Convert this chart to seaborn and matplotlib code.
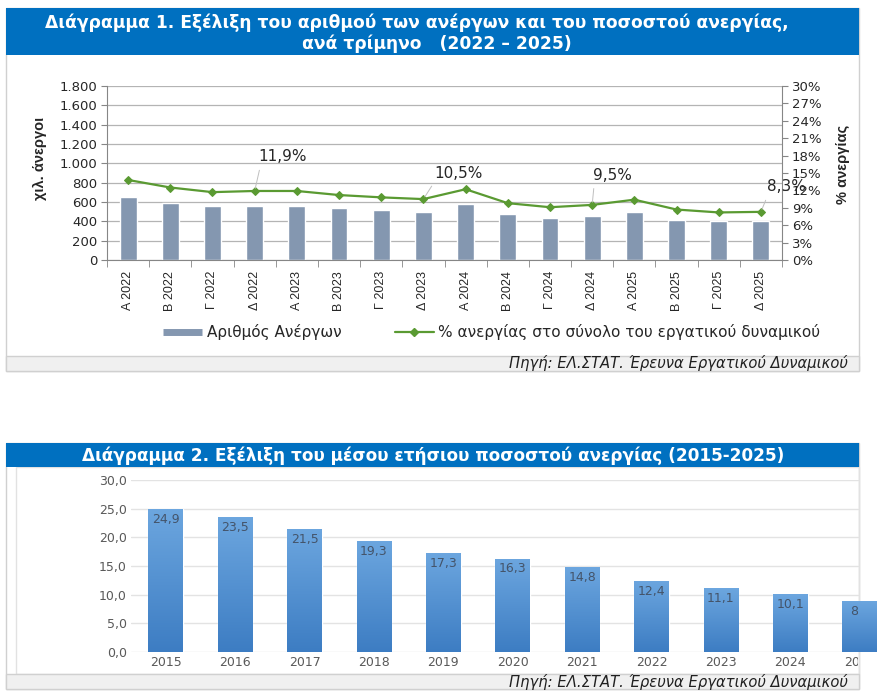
import numpy as np
import matplotlib
matplotlib.use("Agg")
import matplotlib.pyplot as plt
import seaborn as sns
from matplotlib.patches import Rectangle
from matplotlib.lines import Line2D
from matplotlib.ticker import FuncFormatter, MultipleLocator
from matplotlib.transforms import Bbox
from matplotlib.colors import LinearSegmentedColormap

# chart 1: quarterly unemployed (thousands) and unemployment rate (%)
quarters = ["Α 2022", "Β 2022", "Γ 2022", "Δ 2022", "Α 2023", "Β 2023", "Γ 2023", "Δ 2023",
            "Α 2024", "Β 2024", "Γ 2024", "Δ 2024", "Α 2025", "Β 2025", "Γ 2025", "Δ 2025"]
unemployed = [650, 592, 557, 561, 554, 537, 516, 492, 575, 471, 434, 454, 492, 413, 399, 402]
rate = [13.8, 12.5, 11.7, 11.9, 11.9, 11.2, 10.8, 10.5, 12.2, 9.8, 9.1, 9.5, 10.4, 8.7, 8.2, 8.3]
# which points get a value label, and where the label text sits (x, y in data units)
labelled = ["Δ 2022", "Δ 2023", "Δ 2024", "Δ 2025"]
label_xy = [(3.67, 17.8), (7.82, 15.0), (11.47, 14.65), (15.6, 12.6)]

# chart 2: yearly mean unemployment rate
years = ["2015", "2016", "2017", "2018", "2019", "2020", "2021", "2022", "2023", "2024", "2025"]
annual_rate = [24.9, 23.5, 21.5, 19.3, 17.3, 16.3, 14.8, 12.4, 11.1, 10.1, 8.9]

BLUE = "#0070C0"
BAR1 = "#8497B0"
GREEN = "#5A9A32"
W, H = 880, 696

sns.set_style("white")
plt.rcParams["font.family"] = ["DejaVu Sans"]

fig = plt.figure(figsize=(W / 100, H / 100), dpi=100)


def fx(x):
    return x / W


def fy(y):
    return 1 - y / H


def box(x0, y0, x1, y1, **kw):
    fig.patches.append(Rectangle((fx(x0), fy(y1)), (x1 - x0) / W, (y1 - y0) / H,
                                 transform=fig.transFigure, zorder=-1, **kw))


def comma(v, fmt):
    return format(v, fmt).replace(".", ",")


# ---------- panel 1 frame ----------
box(6, 8, 859, 371, facecolor="white", edgecolor="#D0D0D0", lw=1)
box(6, 8, 859, 55, facecolor=BLUE, edgecolor="none")
box(6, 356, 859, 371, facecolor="#F0F0F0", edgecolor="#D0D0D0", lw=1)
fig.text(fx(417), fy(23), "Διάγραμμα 1. Εξέλιξη του αριθμού των ανέργων και του ποσοστού ανεργίας,",
         color="white", weight="bold", size=12.3, ha="center", va="center")
fig.text(fx(437), fy(44), "ανά τρίμηνο   (2022 – 2025)",
         color="white", weight="bold", size=12.3, ha="center", va="center")
fig.text(fx(848), fy(363), "Πηγή: ΕΛ.ΣΤΑΤ. Έρευνα Εργατικού Δυναμικού", style="italic",
         size=10.6, ha="right", va="center", color="#202020")

ax1 = fig.add_axes([fx(107), fy(260), (782 - 107) / W, (260 - 86) / H])
ax1.set_facecolor("none")
sns.barplot(x=quarters, y=unemployed, color=BAR1, saturation=1, width=0.4, ax=ax1, zorder=2)
ax1.set_ylim(0, 1800)
ax1.yaxis.set_major_locator(MultipleLocator(200))
ax1.yaxis.set_major_formatter(FuncFormatter(lambda v, p: f"{int(v):,}".replace(",", ".")))
ax1.grid(axis="y", color="#B4B4B4", lw=0.9)
ax1.grid(axis="x", visible=False)
ax1.set_axisbelow(True)
ax1.set_xlabel("")
ax1.set_ylabel("")
for s in ["left", "bottom"]:
    ax1.spines[s].set_color("#868686")
ax1.spines["top"].set_visible(False)
ax1.spines["right"].set_visible(False)
ax1.tick_params(axis="y", which="major", left=True, length=4, color="#868686", labelsize=9.5, pad=3)
ax1.set_xticks(np.arange(-0.5, 16, 1), minor=True)
ax1.tick_params(axis="x", which="major", length=0, pad=8, rotation=90, labelsize=9)
ax1.tick_params(axis="x", which="minor", bottom=True, length=5, color="#868686")
for lab in ax1.get_xticklabels():
    lab.set_fontfamily(["Liberation Sans Narrow", "Liberation Sans"])

ax1r = ax1.twinx()
sns.lineplot(x=np.arange(len(rate)), y=rate, ax=ax1r, color=GREEN, lw=1.6, marker="D",
             markersize=4.5, markeredgecolor=GREEN, legend=False, zorder=3)
ax1r.set_ylim(0, 30)
ax1r.yaxis.set_major_locator(MultipleLocator(3))
ax1r.yaxis.set_major_formatter(FuncFormatter(lambda v, p: f"{int(round(v))}%"))
ax1r.set_ylabel("")
for s in ["left", "top", "bottom"]:
    ax1r.spines[s].set_visible(False)
ax1r.spines["right"].set_color("#868686")
ax1r.tick_params(axis="y", right=True, length=4, color="#868686", labelsize=9.5, pad=3)

for q, (tx, ty) in zip(labelled, label_xy):
    i = quarters.index(q)
    ax1r.annotate(comma(rate[i], ".1f") + "%", xy=(i, rate[i]), xytext=(tx, ty),
                  textcoords="data", ha="center", va="center", size=11,
                  arrowprops=dict(arrowstyle="-", color="#BFBFBF", lw=0.7,
                                  relpos=(0.05, 0.1), shrinkA=2, shrinkB=2))
ax1.set_xlim(-0.5, 15.5)

fig.text(fx(40), fy(158), "χιλ. άνεργοι", rotation=90, weight="bold", size=10.5,
         ha="center", va="center", family=["Liberation Sans Narrow", "Liberation Sans"],
         fontstretch="condensed")
fig.text(fx(843), fy(164), "% ανεργίας", rotation=90, weight="bold", size=10.5,
         ha="center", va="center", family=["Liberation Sans Narrow", "Liberation Sans"],
         fontstretch="condensed")

handles = [Line2D([0], [0], color=BAR1, lw=5, solid_capstyle="butt"),
           Line2D([0], [0], color=GREEN, lw=1.6, marker="D", markersize=4.5)]
fig.legend(handles, ["Αριθμός Ανέργων", "% ανεργίας στο σύνολο του εργατικού δυναμικού"],
           loc="center left", bbox_to_anchor=(fx(163), fy(332)), ncol=2, frameon=False,
           fontsize=11, handlelength=2.55, handletextpad=0.3, columnspacing=3.5,
           borderpad=0, borderaxespad=0)

# ---------- panel 2 frame ----------
box(6, 443, 859, 689, facecolor="white", edgecolor="#D0D0D0", lw=1)
box(16, 467, 859, 674, facecolor="none", edgecolor="#E2E2E2", lw=1)
box(6, 443, 859, 467, facecolor=BLUE, edgecolor="none")
box(6, 674, 859, 689, facecolor="#F0F0F0", edgecolor="#D0D0D0", lw=1)
fig.text(fx(433), fy(456), "Διάγραμμα 2. Εξέλιξη του μέσου ετήσιου ποσοστού ανεργίας (2015-2025)",
         color="white", weight="bold", size=12.2, ha="center", va="center")
fig.text(fx(848), fy(682), "Πηγή: ΕΛ.ΣΤΑΤ. Έρευνα Εργατικού Δυναμικού", style="italic",
         size=10.6, ha="right", va="center", color="#202020")

ax2 = fig.add_axes([fx(131), fy(652), (880 - 131) / W, (652 - 480) / H])
ax2.set_facecolor("none")
sns.barplot(x=years, y=annual_rate, color="#5B9BD5", saturation=1, width=0.5, ax=ax2, zorder=2)
ax2.yaxis.set_major_locator(MultipleLocator(5))
ax2.yaxis.set_major_formatter(FuncFormatter(lambda v, p: comma(v, ".1f")))
ax2.grid(False)
for v in np.arange(0, 31, 5):
    ax2.axhline(v, xmin=0, xmax=(858 - 131) / 749, color="#E3E3E3", lw=1, zorder=0)
sns.despine(ax=ax2, left=True, bottom=True)
ax2.set_xlabel("")
ax2.set_ylabel("")
ax2.tick_params(axis="both", length=0, labelsize=9, labelcolor="#595959")
ax2.tick_params(axis="y", pad=3)
ax2.tick_params(axis="x", pad=3)

cmap = LinearSegmentedColormap.from_list("bar", ["#3D7DC3", "#6CA6DF"])
grad = np.linspace(0, 1, 64).reshape(-1, 1)
for p in list(ax2.patches):
    x0, y0 = p.get_x(), p.get_y()
    im = ax2.imshow(grad, extent=(x0, x0 + p.get_width(), y0, y0 + p.get_height()),
                    origin="lower", aspect="auto", cmap=cmap, zorder=2.1)
    im.set_clip_path(p)
ax2.set_xlim(-0.5, -0.5 + 749 / 69.4)
ax2.set_ylim(0, 30)

clip = Bbox.from_extents(0, 0, 858, H)
for i, v in enumerate(annual_rate):
    t = ax2.annotate(comma(v, ".1f"), xy=(i, v), xytext=(0, -7.5), textcoords="offset points",
                     ha="center", va="center", size=9, color="#44546A", zorder=4)
    t.set_clip_box(clip)
    t.set_clip_on(True)
last = ax2.get_xticklabels()[-1]
last.set_clip_box(clip)
last.set_clip_on(True)

fig.savefig("out.png", dpi=100)
